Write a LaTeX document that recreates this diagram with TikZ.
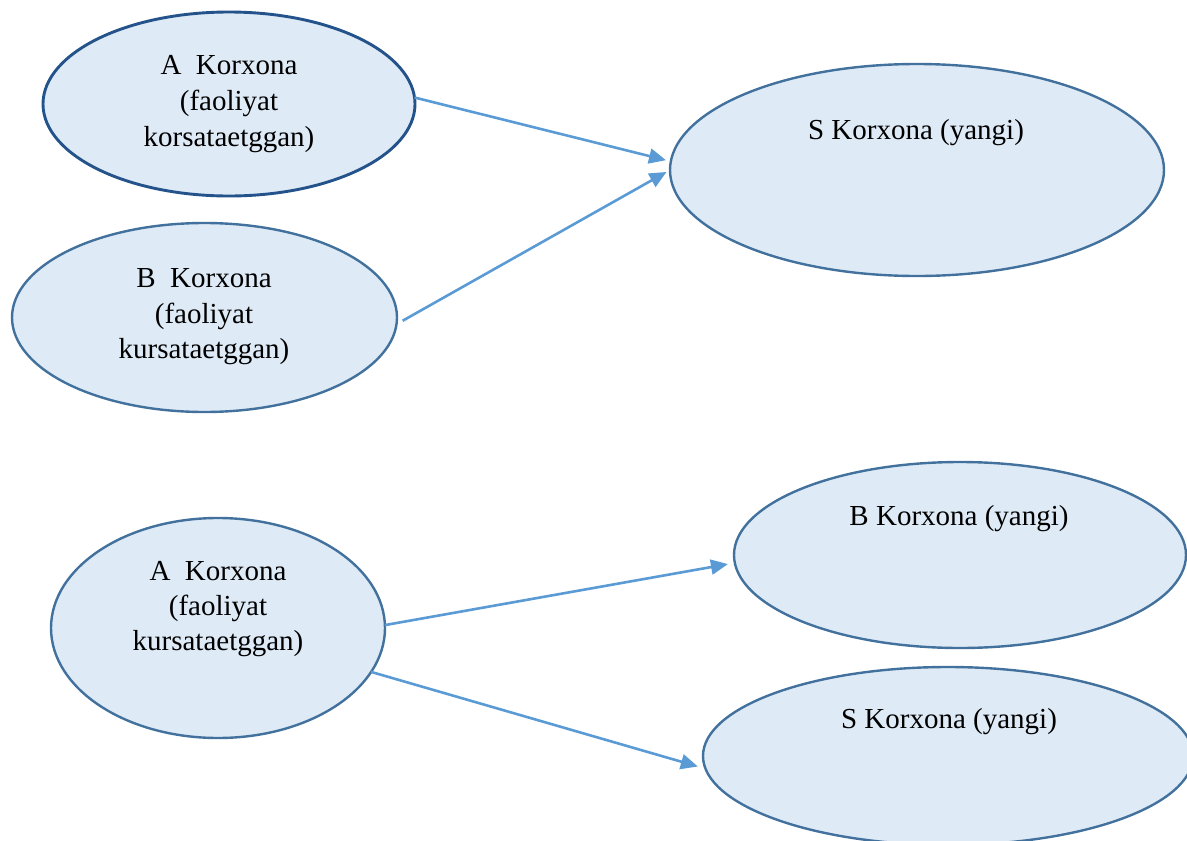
\documentclass[tikz,border=0pt]{standalone}
\usepackage{fontspec}
\setmainfont{Liberation Serif}
\usetikzlibrary{shapes.geometric,arrows.meta}

\definecolor{ovalfill}{HTML}{DEEAF6}
\definecolor{ovalline}{HTML}{41719C}
\definecolor{ovaldark}{HTML}{24528A}
\definecolor{linkblue}{HTML}{5B9BD5}

\tikzset{
  oval/.style={ellipse, draw=ovalline, fill=ovalfill, line width=2.4pt,
               inner sep=0pt, outer sep=0pt},
  lbl/.style={anchor=base, inner sep=0pt, font=\fontsize{29}{35}\selectfont},
  link/.style={draw=linkblue, line width=2.6pt,
               -{Triangle[length=17pt,width=15pt]}}
}

\begin{document}
\begin{tikzpicture}[x=1pt,y=-1pt]
  \useasboundingbox (0,0) rectangle (1187,841);
  \clip (0,0) rectangle (1187,841);

  % upper group: two working firms merge into a new one
  \node[oval, draw=ovaldark, line width=2.9pt, minimum width=372pt, minimum height=184pt] (A1) at (229,104) {};
  \node[oval, minimum width=385pt, minimum height=189pt] (B1) at (204.5,317.5) {};
  \node[oval, minimum width=494pt, minimum height=212pt] (S1) at (917,170) {};

  \node[lbl] (A1t1) at (229,74)  {A\ \ Korxona};
  \node[lbl] (A1t2) at (229,110) {(faoliyat};
  \node[lbl] (A1t3) at (229,146) {korsataetggan)};

  \node[lbl] (B1t1) at (204,287) {B\ \ Korxona};
  \node[lbl] (B1t2) at (204,323) {(faoliyat};
  \node[lbl] (B1t3) at (204,358) {kursataetggan)};

  \node[lbl] (S1t) at (916,139) {S Korxona (yangi)};

  \draw[link, shorten >=5pt] (A1.2) -- (S1.178);
  \draw[link, shorten <=7pt, shorten >=4pt] (B1.-2) -- (S1.180);

  % lower group: one working firm splits into two new ones
  \node[oval, minimum width=334pt, minimum height=220pt] (A2) at (218,628) {};
  \node[oval, minimum width=452pt, minimum height=186pt] (B2) at (960,555) {};
  \node[oval, minimum width=490pt, minimum height=178pt] (S2) at (948,756) {};

  \node[lbl] (A2t1) at (218,580) {A\ \ Korxona};
  \node[lbl] (A2t2) at (218,615) {(faoliyat};
  \node[lbl] (A2t3) at (218,650) {kursataetggan)};

  \node[lbl] (B2t) at (959,525) {B Korxona (yangi)};
  \node[lbl] (S2t) at (949,728) {S Korxona (yangi)};

  \draw[link, shorten >=7pt] (A2.1.7) -- (B2.182);
  \draw[link, shorten >=8pt] (A2.-16.9) -- (S2.183.6);
\end{tikzpicture}
\end{document}
